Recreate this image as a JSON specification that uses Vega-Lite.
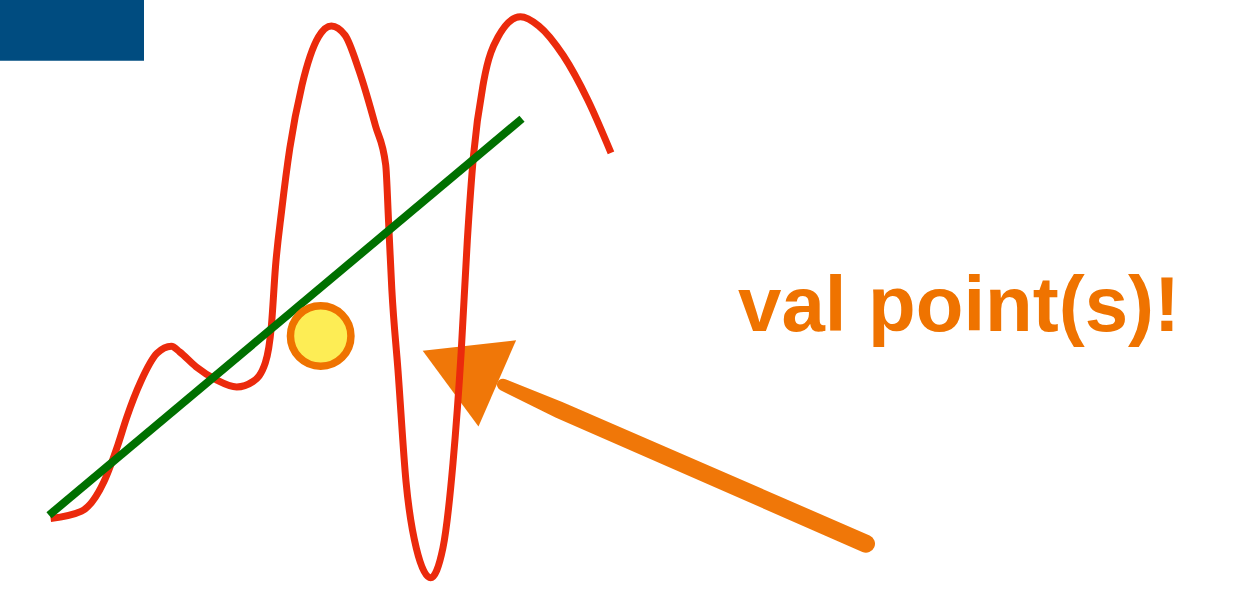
{
  "$schema": "https://vega.github.io/schema/vega-lite/v6.json",
  "width": 1244,
  "height": 592,
  "padding": 0,
  "autosize": {"type": "fit", "contains": "padding"},
  "background": "white",
  "config": {"view": {"stroke": null}},
  "datasets": {
    "box": [{"x0": 0, "x1": 144, "y0": 0, "y1": 62}],
    "shaft": [
      {"x": 503, "y": 392, "w": 12},
      {"x": 560, "y": 418, "w": 17},
      {"x": 866, "y": 554, "w": 18}
    ],
    "head": [{"x": 460, "y": 374}],
    "curve": [
      {"x": 50.6, "y": 528.3}, {"x": 81.6, "y": 520.8}, {"x": 104, "y": 490.6},
      {"x": 118, "y": 453}, {"x": 126.5, "y": 426}, {"x": 140.8, "y": 388.7},
      {"x": 157, "y": 360}, {"x": 171.4, "y": 352.8}, {"x": 179.6, "y": 358.5},
      {"x": 196, "y": 373.6}, {"x": 216, "y": 386.8}, {"x": 236.7, "y": 394.3},
      {"x": 253, "y": 388.7}, {"x": 265.3, "y": 369.8}, {"x": 271.4, "y": 332},
      {"x": 275.5, "y": 271.7}, {"x": 281.6, "y": 215}, {"x": 289.8, "y": 151},
      {"x": 302, "y": 86.8}, {"x": 318.4, "y": 37.7}, {"x": 331.4, "y": 26.4},
      {"x": 345, "y": 35.8}, {"x": 359, "y": 71.7}, {"x": 375.5, "y": 128.3},
      {"x": 385.7, "y": 168}, {"x": 388.6, "y": 226.4}, {"x": 391.8, "y": 294.3},
      {"x": 398, "y": 377.4}, {"x": 406, "y": 490.6}, {"x": 416.3, "y": 558.5},
      {"x": 430.6, "y": 588.7}, {"x": 442.9, "y": 558.5}, {"x": 453, "y": 471.7},
      {"x": 461.2, "y": 358.5}, {"x": 467.3, "y": 245.3}, {"x": 473.5, "y": 158.5},
      {"x": 483.7, "y": 83}, {"x": 498, "y": 37.7}, {"x": 520.4, "y": 17},
      {"x": 538.8, "y": 26.4}, {"x": 563.3, "y": 56.6}, {"x": 587.8, "y": 101.9},
      {"x": 611, "y": 155.8}
    ],
    "trend": [{"x": 49, "y": 525}, {"x": 522, "y": 121}],
    "dot": [{"x": 320.7, "y": 342.3}],
    "label": [{"x": 738, "y": 337, "text": "val point(s)!"}]
  },
  "layer": [
    {
      "data": {"name": "box"},
      "mark": {"type": "rect", "color": "#004c80"},
      "encoding": {
        "x": {"field": "x0", "type": "quantitative", "scale": {"domain": [0, 1244], "nice": false, "zero": false}, "axis": null},
        "x2": {"field": "x1"},
        "y": {"field": "y0", "type": "quantitative", "scale": {"domain": [0, 592], "nice": false, "zero": false, "reverse": true}, "axis": null},
        "y2": {"field": "y1"}
      }
    },
    {
      "data": {"name": "shaft"},
      "mark": {"type": "trail", "color": "#ef7300", "opacity": 0.97},
      "encoding": {
        "x": {"field": "x", "type": "quantitative", "axis": null},
        "y": {"field": "y", "type": "quantitative", "axis": null},
        "size": {"field": "w", "type": "quantitative", "scale": null, "legend": null}
      }
    },
    {
      "data": {"name": "head"},
      "mark": {"type": "point", "shape": "triangle-up", "filled": true, "color": "#ef7300", "opacity": 0.97, "size": 8836, "angle": 293.6},
      "encoding": {
        "x": {"field": "x", "type": "quantitative", "axis": null},
        "y": {"field": "y", "type": "quantitative", "axis": null}
      }
    },
    {
      "data": {"name": "curve"},
      "mark": {"type": "line", "color": "#eb2a0c", "strokeWidth": 7, "interpolate": "monotone"},
      "encoding": {
        "x": {"field": "x", "type": "quantitative", "axis": null},
        "y": {"field": "y", "type": "quantitative", "axis": null}
      }
    },
    {
      "data": {"name": "trend"},
      "mark": {"type": "line", "color": "#007000", "strokeWidth": 8},
      "encoding": {
        "x": {"field": "x", "type": "quantitative", "axis": null},
        "y": {"field": "y", "type": "quantitative", "axis": null}
      }
    },
    {
      "data": {"name": "dot"},
      "mark": {"type": "point", "shape": "circle", "filled": true, "fill": "#fded55", "stroke": "#ef7300", "strokeWidth": 7.5, "size": 3660, "opacity": 1, "fillOpacity": 1, "strokeOpacity": 1},
      "encoding": {
        "x": {"field": "x", "type": "quantitative", "axis": null},
        "y": {"field": "y", "type": "quantitative", "axis": null}
      }
    },
    {
      "data": {"name": "label"},
      "mark": {"type": "text", "align": "left", "baseline": "alphabetic", "font": "Liberation Sans", "fontWeight": "bold", "fontSize": 78, "color": "#ef7300"},
      "encoding": {
        "x": {"field": "x", "type": "quantitative", "axis": null},
        "y": {"field": "y", "type": "quantitative", "axis": null},
        "text": {"field": "text", "type": "nominal"}
      }
    }
  ]
}
